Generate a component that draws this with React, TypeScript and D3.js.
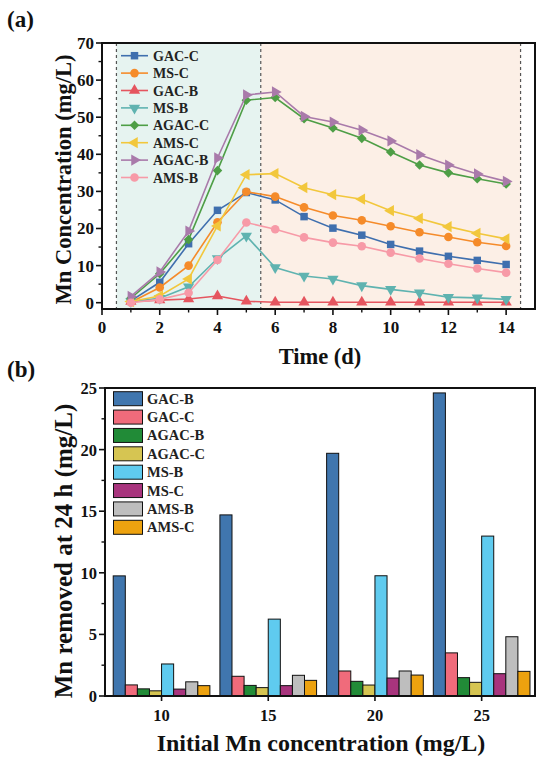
import * as d3 from "d3"

// panel (a): Mn concentration over time
const days = [1, 2, 3, 4, 5, 6, 7, 8, 9, 10, 11, 12, 13, 14]
const gacC = [0.5, 5.5, 15.9, 24.9, 29.7, 27.7, 23.2, 20.1, 18.2, 15.7, 13.9, 12.5, 11.4, 10.3]
const msC = [0.1, 4.1, 10.0, 21.7, 29.9, 28.6, 25.7, 23.5, 22.2, 20.6, 19.0, 17.7, 16.3, 15.3]
const gacB = [0.3, 0.7, 1.0, 1.8, 0.4, 0.1, 0.1, 0.1, 0.1, 0.1, 0.1, 0.1, 0.1, 0.1]
const msB = [0.3, 1.2, 4.3, 11.9, 18.0, 9.5, 7.2, 6.4, 4.6, 3.6, 2.7, 1.5, 1.3, 0.9]
const agacC = [1.2, 7.8, 17.0, 35.6, 54.6, 55.3, 49.6, 47.1, 44.3, 40.6, 37.1, 35.0, 33.4, 32.0]
const amsC = [0.3, 1.8, 6.4, 20.7, 34.5, 34.8, 31.0, 29.1, 27.9, 24.8, 22.7, 20.5, 18.7, 17.2]
const agacB = [1.7, 8.3, 19.3, 39.0, 56.0, 56.8, 50.2, 48.7, 46.5, 43.6, 39.9, 37.1, 34.7, 32.7]
const amsB = [0.0, 0.9, 2.7, 11.5, 21.6, 19.8, 17.6, 16.2, 15.2, 13.5, 11.9, 10.5, 9.2, 8.1]

const lineSeries = [
  { name: "GAC-C", values: gacC, color: "#3f6fae", shape: "square" },
  { name: "MS-C", values: msC, color: "#f58b2a", shape: "circle" },
  { name: "GAC-B", values: gacB, color: "#e5555f", shape: "up" },
  { name: "MS-B", values: msB, color: "#5fb3b0", shape: "down" },
  { name: "AGAC-C", values: agacC, color: "#4e9e46", shape: "diamond" },
  { name: "AMS-C", values: amsC, color: "#f2c73c", shape: "left" },
  { name: "AGAC-B", values: agacB, color: "#a97aaa", shape: "right" },
  { name: "AMS-B", values: amsB, color: "#f79aa7", shape: "circle" },
]

const xTicksA = [0, 2, 4, 6, 8, 10, 12, 14]
const yTicksA = [0, 10, 20, 30, 40, 50, 60, 70]

// panel (b): Mn removed at 24 h
const concentrations = [10, 15, 20, 25]
const barGacB = [9.75, 14.7, 19.7, 24.6]
const barGacC = [0.9, 1.6, 2.03, 3.5]
const barAgacB = [0.58, 0.86, 1.19, 1.49]
const barAgacC = [0.42, 0.68, 0.89, 1.11]
const barMsB = [2.6, 6.24, 9.76, 12.98]
const barMsC = [0.56, 0.84, 1.46, 1.81]
const barAmsB = [1.15, 1.68, 2.03, 4.81]
const barAmsC = [0.84, 1.27, 1.7, 2.0]

const barSeries = [
  { name: "GAC-B", values: barGacB, color: "#4076ae" },
  { name: "GAC-C", values: barGacC, color: "#f06b7b" },
  { name: "AGAC-B", values: barAgacB, color: "#218b37" },
  { name: "AGAC-C", values: barAgacC, color: "#d6c552" },
  { name: "MS-B", values: barMsB, color: "#5fcbef" },
  { name: "MS-C", values: barMsC, color: "#a8347d" },
  { name: "AMS-B", values: barAmsB, color: "#bebebe" },
  { name: "AMS-C", values: barAmsC, color: "#eda20f" },
]

const yTicksB = [0, 5, 10, 15, 20, 25]

const FONT = "'Liberation Serif', 'Times New Roman', serif"

function markerPath(shape: string) {
  const tri = d3.symbol(d3.symbolTriangle, 55)()
  switch (shape) {
    case "square":
      return { d: d3.symbol(d3.symbolSquare, 56)(), rot: 0 }
    case "circle":
      return { d: d3.symbol(d3.symbolCircle, 58)(), rot: 0 }
    case "diamond":
      return { d: d3.symbol(d3.symbolSquare, 46)(), rot: 45 }
    case "up":
      return { d: tri, rot: 0 }
    case "down":
      return { d: tri, rot: 180 }
    case "left":
      return { d: tri, rot: -90 }
    default:
      return { d: tri, rot: 90 }
  }
}

function PanelA() {
  const left = 102, right = 535, top = 43, bottom = 309
  const x = d3.scaleLinear().domain([0, 15]).range([left, right])
  const y = d3.scaleLinear().domain([-1.7, 70]).range([bottom, top])
  const line = d3
    .line<number>()
    .x((_, i) => x(days[i]))
    .y((d) => y(d))

  const minorX = d3.range(1, 15, 2)
  const minorY = d3.range(5, 70, 10)

  return (
    <g>
      <rect x={x(0.5)} y={top} width={x(5.5) - x(0.5)} height={bottom - top} fill="#e6f3f0" />
      <rect x={x(5.5)} y={top} width={x(14.5) - x(5.5)} height={bottom - top} fill="#fcefe6" />
      {[0.5, 5.5, 14.5].map((d) => (
        <line key={d} x1={x(d)} x2={x(d)} y1={top} y2={bottom} stroke="#555" strokeWidth={1.2} strokeDasharray="3,3" />
      ))}

      {lineSeries.map((s) => {
        const m = markerPath(s.shape)
        return (
          <g key={s.name}>
            <path d={line(s.values) || ""} fill="none" stroke={s.color} strokeWidth={1.6} />
            {s.values.map((v, i) => (
              <path
                key={i}
                d={m.d || ""}
                fill={s.color}
                transform={`translate(${x(days[i])},${y(v)}) rotate(${m.rot})`}
              />
            ))}
          </g>
        )
      })}

      {/* legend */}
      {lineSeries.map((s, i) => {
        const m = markerPath(s.shape)
        const ly = 55.7 + i * 17.4
        return (
          <g key={s.name}>
            <line x1={121} x2={148} y1={ly} y2={ly} stroke={s.color} strokeWidth={1.6} />
            <path d={m.d || ""} fill={s.color} transform={`translate(134.5,${ly}) rotate(${m.rot})`} />
            <text x={153} y={ly + 5} fontFamily={FONT} fontWeight="bold" fontSize={14} fill="#222">
              {s.name}
            </text>
          </g>
        )
      })}

      {/* axes */}
      <rect x={left} y={top} width={right - left} height={bottom - top} fill="none" stroke="#111" strokeWidth={2} />
      {xTicksA.map((t) => (
        <g key={t}>
          <line x1={x(t)} x2={x(t)} y1={bottom} y2={bottom + 6} stroke="#111" strokeWidth={1.6} />
          <text x={x(t)} y={bottom + 24} textAnchor="middle" fontFamily={FONT} fontWeight="bold" fontSize={17} fill="#111">
            {t}
          </text>
        </g>
      ))}
      {minorX.map((t) => (
        <line key={t} x1={x(t)} x2={x(t)} y1={bottom} y2={bottom + 3.5} stroke="#111" strokeWidth={1.4} />
      ))}
      {yTicksA.map((t) => (
        <g key={t}>
          <line x1={left - 6} x2={left} y1={y(t)} y2={y(t)} stroke="#111" strokeWidth={1.6} />
          <text x={left - 8} y={y(t) + 6} textAnchor="end" fontFamily={FONT} fontWeight="bold" fontSize={17} fill="#111">
            {t}
          </text>
        </g>
      ))}
      {minorY.map((t) => (
        <line key={t} x1={left - 3.5} x2={left} y1={y(t)} y2={y(t)} stroke="#111" strokeWidth={1.4} />
      ))}

      <text x={320} y={364} textAnchor="middle" fontFamily={FONT} fontWeight="bold" fontSize={22.5} fill="#111">
        Time (d)
      </text>
      <text
        transform={`translate(71,179.5) rotate(-90)`}
        textAnchor="middle"
        fontFamily={FONT}
        fontWeight="bold"
        fontSize={22.5}
        fill="#111"
      >
        Mn Concentration (mg/L)
      </text>
      <text x={7} y={27} fontFamily={FONT} fontWeight="bold" fontSize={23} fill="#111">
        (a)
      </text>
    </g>
  )
}

function PanelB() {
  const left = 105, right = 535, top = 388, bottom = 696
  const x = d3.scaleLinear().domain([7.35, 27.5]).range([left, right])
  const y = d3.scaleLinear().domain([0, 25]).range([bottom, top])
  const groupW = x(10 + 4.53) - x(10)
  const inner = d3
    .scaleBand()
    .domain(barSeries.map((s) => s.name))
    .range([-groupW / 2, groupW / 2])
    .padding(0)
  const minorY = d3.range(2.5, 25, 5)

  return (
    <g>
      {barSeries.map((s) => (
        <g key={s.name}>
          {s.values.map((v, i) => (
            <rect
              key={i}
              x={x(concentrations[i]) + (inner(s.name) || 0)}
              y={y(v)}
              width={inner.bandwidth()}
              height={y(0) - y(v)}
              fill={s.color}
              stroke="#111"
              strokeWidth={1}
            />
          ))}
        </g>
      ))}

      {/* legend */}
      {barSeries.map((s, i) => {
        const ly = 398.7 + i * 18.37
        return (
          <g key={s.name}>
            <rect x={113.5} y={ly - 7} width={29} height={14} fill={s.color} stroke="#111" strokeWidth={1} />
            <text x={147} y={ly + 5} fontFamily={FONT} fontWeight="bold" fontSize={14.5} fill="#222">
              {s.name}
            </text>
          </g>
        )
      })}

      <rect x={left} y={top} width={right - left} height={bottom - top} fill="none" stroke="#111" strokeWidth={2} />
      {concentrations.map((c) => (
        <g key={c}>
          <line x1={x(c)} x2={x(c)} y1={bottom} y2={bottom + 5} stroke="#111" strokeWidth={1.6} />
          <text x={x(c)} y={bottom + 25} textAnchor="middle" fontFamily={FONT} fontWeight="bold" fontSize={16.5} fill="#111">
            {c}
          </text>
        </g>
      ))}
      {yTicksB.map((t) => (
        <g key={t}>
          <line x1={left - 6} x2={left} y1={y(t)} y2={y(t)} stroke="#111" strokeWidth={1.6} />
          <text x={left - 8} y={y(t) + 6} textAnchor="end" fontFamily={FONT} fontWeight="bold" fontSize={16.5} fill="#111">
            {t}
          </text>
        </g>
      ))}
      {minorY.map((t) => (
        <line key={t} x1={left - 3.5} x2={left} y1={y(t)} y2={y(t)} stroke="#111" strokeWidth={1.4} />
      ))}

      <text x={321} y={751} textAnchor="middle" fontFamily={FONT} fontWeight="bold" fontSize={24} fill="#111">
        Initial Mn concentration (mg/L)
      </text>
      <text
        transform={`translate(72,551) rotate(-90)`}
        textAnchor="middle"
        fontFamily={FONT}
        fontWeight="bold"
        fontSize={25}
        fill="#111"
      >
        Mn removed at 24 h (mg/L)
      </text>
      <text x={7} y={377} fontFamily={FONT} fontWeight="bold" fontSize={23} fill="#111">
        (b)
      </text>
    </g>
  )
}

export default function App() {
  return (
    <svg
      width={550}
      height={769}
      viewBox="0 0 550 769"
      style={{ position: "absolute", left: 0, top: 0, background: "#fff" }}
    >
      <rect width={550} height={769} fill="#fff" />
      <PanelA />
      <PanelB />
    </svg>
  )
}
